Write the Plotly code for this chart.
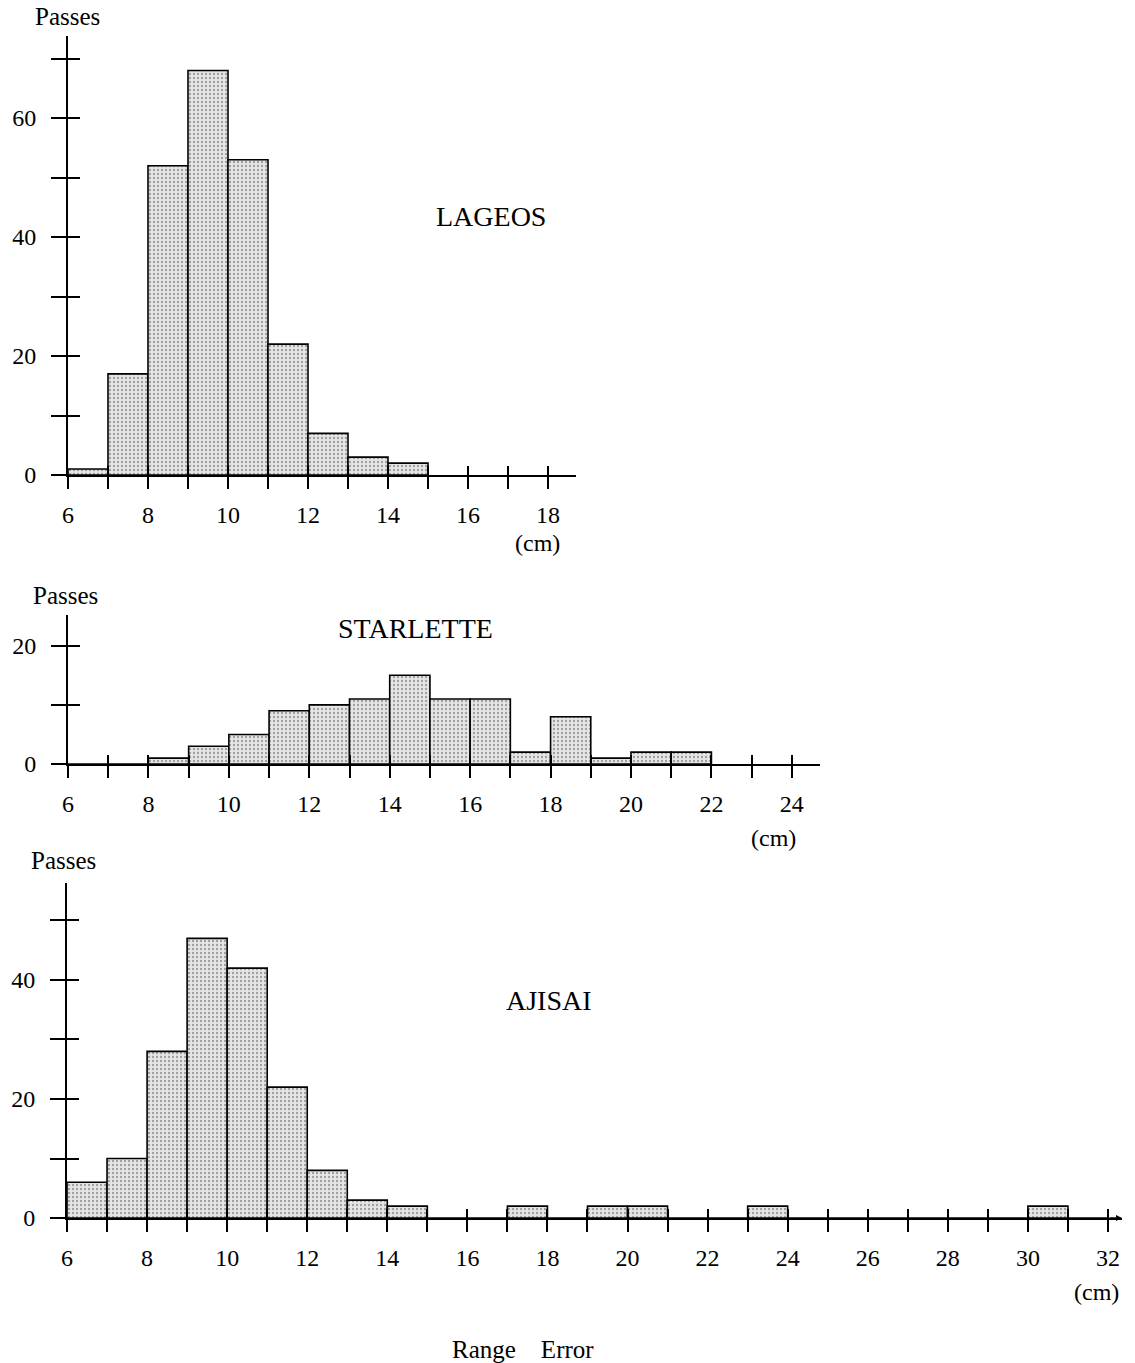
import plotly.graph_objects as go

# ---------------- data ----------------
lageos_left = [6, 7, 8, 9, 10, 11, 12, 13, 14]
lageos_counts = [1, 17, 52, 68, 53, 22, 7, 3, 2]

starlette_left = [6, 7, 8, 9, 10, 11, 12, 13, 14, 15, 16, 17, 18, 19, 20, 21]
starlette_counts = [0, 0, 1, 3, 5, 9, 10, 11, 15, 11, 11, 2, 8, 1, 2, 2]

ajisai_left = list(range(6, 32))
ajisai_counts = [6, 10, 28, 47, 42, 22, 8, 3, 2, 0, 0, 2, 0, 2, 2, 0, 0, 2,
                 0, 0, 0, 0, 0, 0, 2, 0]

titles = ["LAGEOS", "STARLETTE", "AJISAI"]
y_label = "Passes"
x_unit = "(cm)"
x_title = "Range\u2003Error"

# ---------------- figure ----------------
W, H = 1135, 1363
FONT = "Liberation Serif"


def fx(px):
    return px / W


def fy(py):
    return 1 - py / H


fig = go.Figure()

bar_style = dict(
    marker=dict(
        color="#e2e2e2",
        line=dict(color="black", width=1.6),
        pattern=dict(shape=".", fgcolor="#5a5a5a", bgcolor="#e6e6e6",
                     size=4, solidity=0.28),
    ),
    width=1, offset=0, hoverinfo="skip", showlegend=False,
)

datasets = [(lageos_left, lageos_counts), (starlette_left, starlette_counts),
            (ajisai_left, ajisai_counts)]
for i, (xl, yc) in enumerate(datasets):
    ax = "" if i == 0 else str(i + 1)
    fig.add_trace(go.Bar(x=xl, y=yc, xaxis="x" + ax, yaxis="y" + ax, **bar_style))
    ov = str(i + 4)
    fig.add_trace(go.Scatter(x=[], y=[], xaxis="x" + ov, yaxis="y" + ov,
                             showlegend=False, hoverinfo="skip"))

# panel geometry (reference pixels -> paper fractions)
xdoms = [[fx(68), fx(576)], [fx(68), fx(820)], [fx(67), fx(1122)]]
ydoms = [[fy(475), fy(36)], [fy(764), fy(615)], [fy(1218), fy(883)]]
xranges = [[6, 18.7], [6, 24.7], [6, 32.35]]
yranges = [[0, 73.8], [0, 25.2], [0, 56.3]]

tickfont = dict(family=FONT, size=24, color="black")
layout = {}
for i in range(3):
    ax = "" if i == 0 else str(i + 1)
    an = "" if i == 0 else str(i + 1)
    ov = str(i + 4)
    layout["xaxis" + ax] = dict(
        domain=xdoms[i], range=xranges[i], anchor="y" + an,
        showline=True, linecolor="black", linewidth=2,
        ticks="outside", ticklen=12, tickwidth=2, tickcolor="black",
        tick0=6, dtick=2, tickfont=tickfont, ticklabelstandoff=5,
        minor=dict(dtick=1, tick0=6, ticks="outside", ticklen=12,
                   tickwidth=2, tickcolor="black"),
        showgrid=False, zeroline=False, fixedrange=True,
    )
    layout["yaxis" + ax] = dict(
        domain=ydoms[i], range=yranges[i], anchor="x" + an,
        showline=True, linecolor="black", linewidth=2,
        ticks="outside", ticklen=15, tickwidth=2, tickcolor="black",
        tick0=0, dtick=20, tickfont=tickfont, ticklabelstandoff=10,
        minor=dict(dtick=10, tick0=0, ticks="outside", ticklen=15,
                   tickwidth=2, tickcolor="black"),
        showgrid=False, zeroline=False, fixedrange=True,
    )
    layout["xaxis" + ov] = dict(
        overlaying="x" + an, anchor="y" + ov, range=xranges[i],
        showline=False, ticks="inside", ticklen=9, tickwidth=2,
        tickcolor="black", tick0=6, dtick=1, showticklabels=False,
        showgrid=False, zeroline=False, fixedrange=True,
    )
    layout["yaxis" + ov] = dict(
        overlaying="y" + an, anchor="x" + ov, range=yranges[i],
        showline=False, ticks="inside", ticklen=12, tickwidth=2,
        tickcolor="black", tick0=0, dtick=10, showticklabels=False,
        showgrid=False, zeroline=False, fixedrange=True,
    )

fig.update_layout(**layout)


# ---------------- text ----------------
def ann(text, x, y, size, xanchor="center"):
    return dict(text=text, x=fx(x), y=fy(y), xref="paper", yref="paper",
                showarrow=False, xanchor=xanchor, yanchor="middle",
                font=dict(family=FONT, size=size, color="black"))


annotations = [
    ann(y_label, 67, 17, 25), ann(y_label, 65, 595, 25), ann(y_label, 63, 860, 25),
    ann(titles[0], 491, 216, 28), ann(titles[1], 415, 628, 28), ann(titles[2], 549, 1000, 28),
    ann(x_unit, 537, 543, 24), ann(x_unit, 773, 838, 24), ann(x_unit, 1096, 1292, 24),
    ann(x_title, 523, 1349, 25),
    # small arrow head at the end of the AJISAI axis
    dict(x=xranges[2][1], y=0, xref="x3", yref="y3", ax=-14, ay=0,
         showarrow=True, arrowhead=2, arrowsize=0.8, arrowwidth=1.5,
         arrowcolor="black", text=""),
]

fig.update_layout(
    width=W, height=H,
    margin=dict(l=0, r=0, t=0, b=0, autoexpand=False),
    paper_bgcolor="white", plot_bgcolor="white",
    bargap=0, showlegend=False,
    font=dict(family=FONT, color="black"),
    annotations=annotations,
)

fig.write_html(
    "out.html",
    config={"displayModeBar": False, "staticPlot": True},
    post_script=(
        "document.documentElement.style.margin='0';"
        "document.documentElement.style.overflow='hidden';"
        "document.body.style.margin='0';"
        "document.body.style.padding='0';"
        "document.body.style.overflow='hidden';"
    ),
)
